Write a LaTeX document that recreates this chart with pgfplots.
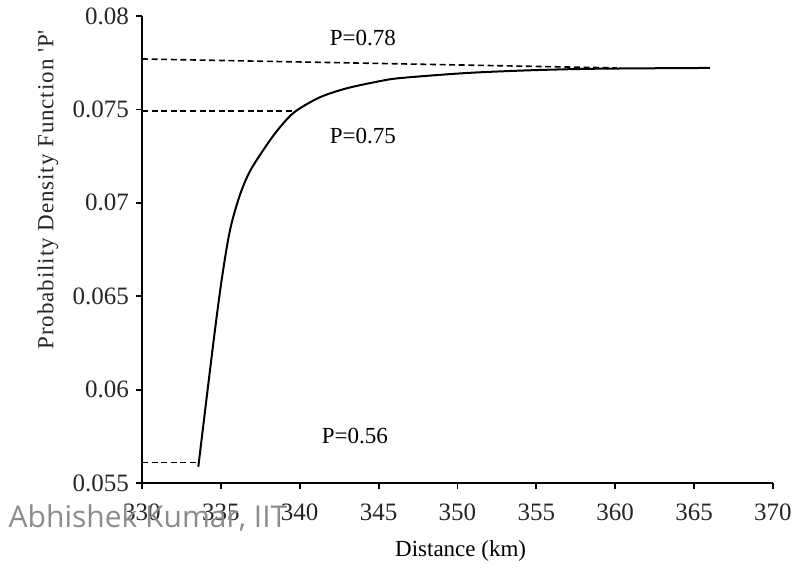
\documentclass[border=0pt]{standalone}
\usepackage{pgfplots}
\pgfplotsset{compat=1.18}
\usepackage{fontspec}
\setmainfont{Liberation Serif}
\newfontfamily\wmfont{Open Sans}
\newfontfamily\ylfont[LetterSpace=4]{Liberation Serif}
\begin{document}
\begin{tikzpicture}
\path[use as bounding box] (-71pt,-43.5pt) rectangle (325.5pt,241.5pt);
\begin{axis}[
  at={(0pt,0pt)}, anchor=origin,
  scale only axis,
  width=315.5pt, height=233.5pt,
  xmin=330, xmax=370, ymin=0.055, ymax=0.08,
  axis x line*=bottom, axis y line*=left,
  axis line style={line width=1pt, -},
  xtick={330,335,...,370},
  ytick={0.055,0.06,0.065,0.07,0.075,0.08},
  tick align=outside, major tick length=3pt,
  tick style={line width=0.9pt, black},
  scaled y ticks=false,
  /pgf/number format/assume math mode=true,
  yticklabel style={/pgf/number format/fixed, /pgf/number format/precision=3},
  xticklabel style={/pgf/number format/set thousands separator={}, yshift=-4pt},
  ticklabel style={font=\fontsize{12.5}{14}\selectfont, text=black!85},
  xlabel={Distance (km)},
  ylabel={Probability Density Function 'P'},
  xlabel style={font=\fontsize{11.5}{13}\selectfont, at={(axis description cs:0.505,-0.1456)}, anchor=center},
  ylabel style={font=\ylfont\fontsize{11.5}{13}\selectfont, at={(axis description cs:-0.149,0.628)}, anchor=center, text=black!85},
  clip=false,
]
\addplot[black, line width=1pt, smooth, tension=0.5] coordinates {
(333.57,0.05587) (334.52,0.06248) (335.05,0.06587) (335.58,0.06854)
(336.2,0.07040) (336.85,0.07170) (337.90,0.07309) (338.75,0.07405)
(339.70,0.07488) (341.28,0.07565) (342.98,0.07613) (345.0,0.07650)
(346.4,0.07668) (350.6,0.07695) (354.8,0.07710) (359.0,0.07718)
(366.0,0.07722)
};
\addplot[black, line width=0.8pt, dash pattern=on 3pt off 1.8pt] coordinates {(330,0.0777) (360.1,0.07722)};
\addplot[black, line width=0.8pt, dash pattern=on 3pt off 1.8pt] coordinates {(330,0.0749) (339.75,0.0749)};
\addplot[black, line width=0.8pt, dash pattern=on 3pt off 1.8pt] coordinates {(330,0.0561) (333.5,0.0561)};
\node[font=\fontsize{11.5}{13}\selectfont] at (axis cs:344.0,0.0788) {P=0.78};
\node[font=\fontsize{11.5}{13}\selectfont] at (axis cs:344.0,0.0736) {P=0.75};
\node[font=\fontsize{11.5}{13}\selectfont] at (axis cs:343.5,0.0575) {P=0.56};
\end{axis}
\node[font=\wmfont\fontsize{15}{17}\selectfont, text=black!45] at (3pt,-17.5pt) {Abhishek Kumar, IIT};
\end{tikzpicture}
\end{document}
